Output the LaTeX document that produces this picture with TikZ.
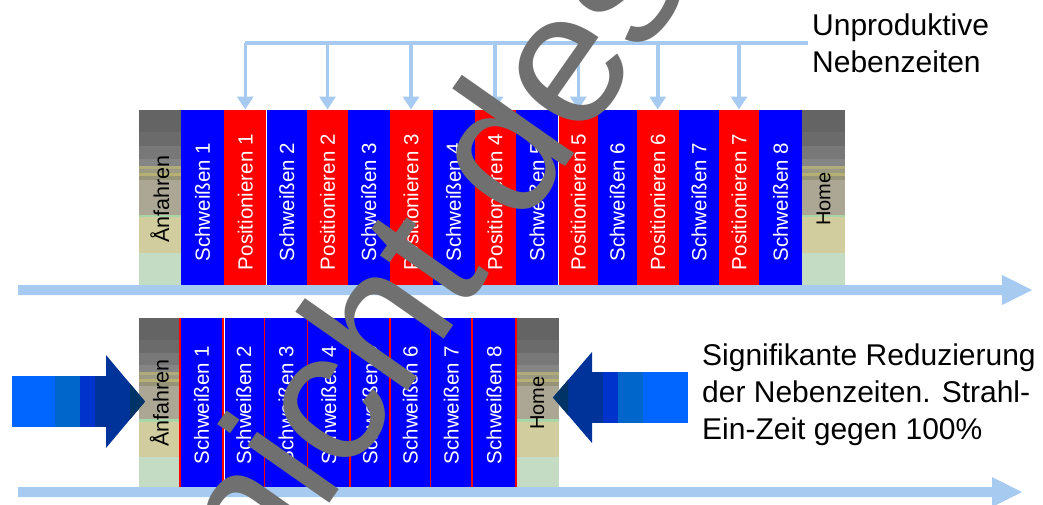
\documentclass[tikz,border=0pt]{standalone}
\usepackage{fontspec}
\setmainfont{Liberation Sans}
\usetikzlibrary{calc,arrows.meta}
\definecolor{sblue}{HTML}{0000FF}
\definecolor{sred}{HTML}{FF0000}
\definecolor{tl}{HTML}{A6CAF0}
\definecolor{wmgray}{HTML}{707070}
\definecolor{ba1}{HTML}{0066FF}
\definecolor{ba2}{HTML}{0066CC}
\definecolor{ba3}{HTML}{0033CC}
\definecolor{ba4}{HTML}{003399}
\definecolor{ba5}{HTML}{003366}
\definecolor{g1}{HTML}{646464}
\definecolor{g2}{HTML}{6B6B6B}
\definecolor{g3}{HTML}{787878}
\definecolor{g4}{HTML}{858585}
\definecolor{g5}{HTML}{B0AC7A}
\definecolor{g6}{HTML}{9C9A82}
\definecolor{g7}{HTML}{B6B074}
\definecolor{g8}{HTML}{969478}
\definecolor{g9}{HTML}{ACA694}
\definecolor{g10}{HTML}{A8D6A8}
\definecolor{g11}{HTML}{D2CD9E}
\definecolor{g12}{HTML}{C4DCC4}
\newcommand\bandblock[4]{%
  \foreach \ba/\bb/\bcl in {0/0.13/g1,0.13/0.21/g2,0.21/0.28/g3,0.28/0.32/g4,
    0.32/0.34/g5,0.34/0.36/g6,0.36/0.38/g7,0.38/0.40/g8,0.40/0.60/g9,
    0.60/0.615/g10,0.615/0.82/g11,0.82/1/g12}{%
    \fill[\bcl] ({#1},{#3+\ba*(#4-#3)}) rectangle ({#2},{min(#3+\bb*(#4-#3)+0.3,#4)});
  }}
\begin{document}
\begin{tikzpicture}[x=1pt,y=-1pt,
  cell/.style={draw=none,inner sep=0pt,outer sep=0pt},
  ctext/.style={text=white,rotate=90,inner sep=0pt,font=\fontsize{20.5}{24}\selectfont},
  btext/.style={text=black,rotate=90,inner sep=0pt},
  lbl/.style={text=black,align=left,inner sep=0pt,font=\fontsize{30}{37}\selectfont},
  drop/.style={tl,line width=3.5pt,-{Triangle[length=13pt,width=16pt]}},
  sep/.style={line width=1.2pt}
]
\useasboundingbox (0,0) rectangle (1043,504);
\fill[white] (0,0) rectangle (1043,504);
\clip (0,0) rectangle (1043,504);

% ---------- top row ----------
\bandblock{138.5}{181}{109.5}{285}
\bandblock{802}{845}{109.5}{285}
\node[btext,font=\fontsize{21.5}{24}\selectfont] (anf1) at (159.75,199) {Ånfahren};
\node[btext,font=\fontsize{20}{24}\selectfont] (home1) at (823.5,199) {Home};

\foreach \nm/\l/\r/\col/\txt in {
 s1/181/224/sblue/Schweißen 1,
 p1/224/266.5/sred/Positionieren 1,
 s2/266.5/307/sblue/Schweißen 2,
 p2/307/348/sred/Positionieren 2,
 s3/348/389.5/sblue/Schweißen 3,
 p3/389.5/432.5/sred/Positionieren 3,
 s4/432.5/474.5/sblue/Schweißen 4,
 p4/474.5/515.5/sred/Positionieren 4,
 s5/515.5/558.5/sblue/Schweißen 5,
 p5/558.5/598/sred/Positionieren 5,
 s6/598/636.5/sblue/Schweißen 6,
 p6/636.5/679/sred/Positionieren 6,
 s7/679/719/sblue/Schweißen 7,
 p7/719/759/sred/Positionieren 7,
 s8/759/802/sblue/Schweißen 8}
{
 \node[cell,fill=\col,minimum width={\r-\l},minimum height=175.5] (\nm) at ({(\l+\r)/2},197.25) {};
 \node[ctext] (\nm-t) at ($(\nm.center)+(0,5)$) {\txt};
}
\draw[white,line width=1.5pt] (s2.north west) -- (s2.south west);
\draw[white,line width=1.5pt] (p5.north west) -- (p5.south west);

% ---------- bottom row ----------
\bandblock{138.5}{180}{318}{487}
\bandblock{516}{558.5}{318}{487}
\node[btext,font=\fontsize{21.5}{24}\selectfont] (anf2) at (159.25,403) {Ånfahren};
\node[btext,font=\fontsize{20}{24}\selectfont] (home2) at (537.25,403) {Home};

\foreach \nm/\l/\r/\txt in {
 t1/180/223/Schweißen 1,
 t2/223/264.5/Schweißen 2,
 t3/264.5/307.5/Schweißen 3,
 t4/307.5/350/Schweißen 4,
 t5/350/390/Schweißen 5,
 t6/390/430.5/Schweißen 6,
 t7/430.5/472/Schweißen 7,
 t8/472/516/Schweißen 8}
{
 \node[cell,fill=sblue,minimum width={\r-\l},minimum height=169] (\nm) at ({(\l+\r)/2},402.5) {};
 \node[ctext] (\nm-t) at ($(\nm.center)+(0,2.5)$) {\txt};
}
\foreach \nm in {t1,t2,t3,t4,t5,t6,t7,t8}
  \draw[sred,sep] (\nm.north west) -- (\nm.south west);
\draw[sred,sep] (t8.north east) -- (t8.south east);
\draw[white,line width=0.8pt] ($(t2.north west)+(1.3,0)$) -- ($(t2.south west)+(1.3,0)$);

% ---------- block arrows ----------
\fill[ba1] (12,376) rectangle (55.5,427);
\fill[ba2] (55,376) rectangle (80.5,427);
\fill[ba3] (80,376) rectangle (95.5,427);
\fill[ba4] (95,376) rectangle (107,427);
\fill[ba4] (106,355) -- (145,401.5) -- (106,448) -- cycle;
\fill[ba5] (130,383.6) -- (145,401.5) -- (130,419.4) -- cycle;

\fill[ba4] (592,352) -- (553,397.5) -- (592,443) -- cycle;
\fill[ba5] (568,380) -- (553,397.5) -- (568,415) -- cycle;
\fill[ba4] (591,372) rectangle (603.5,423);
\fill[ba3] (603,372) rectangle (618.5,423);
\fill[ba2] (618,372) rectangle (643.5,423);
\fill[ba1] (643,372) rectangle (688,423);

% ---------- timelines ----------
\coordinate (tl1s) at (18,290);
\coordinate (tl1e) at (1032,290);
\coordinate (tl2s) at (18,492);
\coordinate (tl2e) at (1022,492);
\fill[tl] ($(tl1s)+(0,-5)$) -- ($(tl1e)+(-30,-5)$) -- ($(tl1e)+(-30,-15)$) -- (tl1e)
  -- ($(tl1e)+(-30,15)$) -- ($(tl1e)+(-30,5)$) -- ($(tl1s)+(0,5)$) -- cycle;
\fill[tl] ($(tl2s)+(0,-5)$) -- ($(tl2e)+(-30,-5)$) -- ($(tl2e)+(-30,-15)$) -- (tl2e)
  -- ($(tl2e)+(-30,15)$) -- ($(tl2e)+(-30,5)$) -- ($(tl2s)+(0,5)$) -- cycle;

% ---------- labels (anchor = baseline of last line) ----------
\node[lbl,anchor=base west] (unp) at (812,72) {Unproduktive\\Nebenzeiten};
\node[lbl,anchor=base west] (sig) at (702,439) {Signifikante Reduzierung\\der Nebenzeiten. Strahl-\\Ein-Zeit gegen 100\%};

% ---------- bracket with drops ----------
\coordinate (brk) at (0,43);
\draw[tl,line width=3.5pt] (p1.north |- brk) -- ($(unp.west |- brk)+(-4,0)$);
\foreach \p in {p1,p2,p3,p4,p5,p6,p7}
  \draw[drop] (\p.north |- brk) -- (\p.north);

% ---------- watermark ----------
\node[rotate=55,anchor=base west,inner sep=0pt,text=wmgray,
  font=\fontsize{189}{189}\selectfont] (wmk) at (262,600) {nicht des};
\end{tikzpicture}
\end{document}
